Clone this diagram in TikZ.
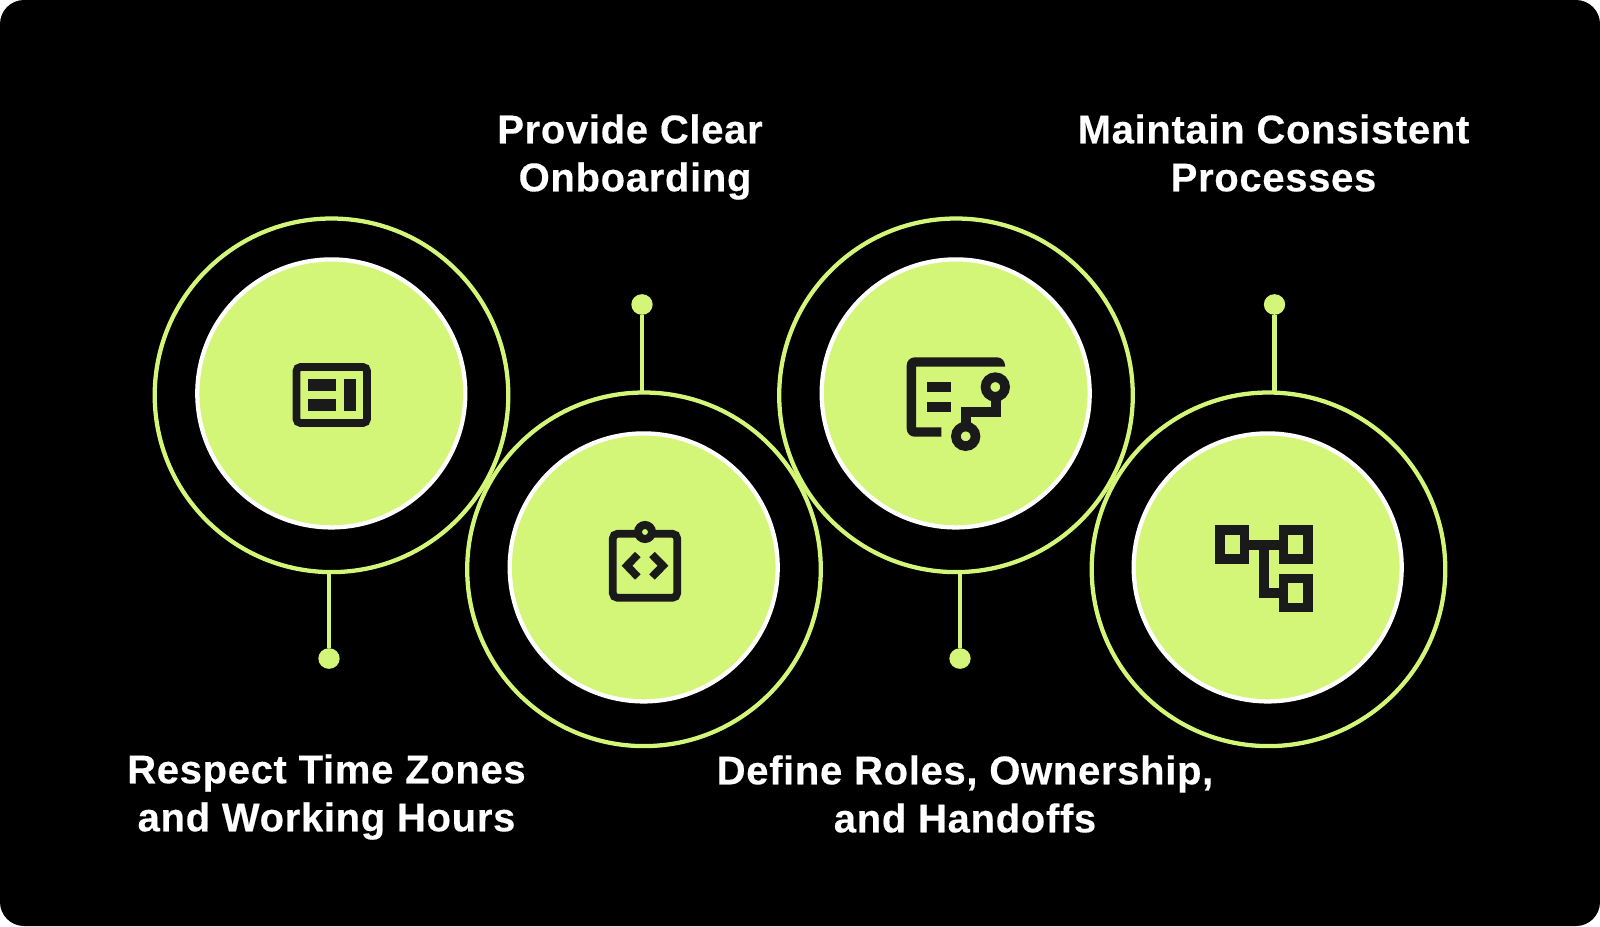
\documentclass[tikz,border=0pt]{standalone}
\usepackage{fontspec}
\setmainfont{Liberation Sans}[LetterSpace=1.7, BoldFeatures={FakeBold=0.35}]
\definecolor{limefill}{HTML}{D3F678}
\definecolor{icondark}{HTML}{1A1A1A}
\tikzset{
	ring/.style={circle, draw=limefill, line width=3.2pt, minimum size=265.2pt, inner sep=0pt, outer sep=0pt},
	disc/.style={circle, fill=limefill, draw=white, line width=3.2pt, minimum size=201pt, inner sep=0pt, outer sep=0pt},
	dot/.style={ellipse, fill=limefill, minimum width=16pt, minimum height=15.5pt, inner sep=0pt, outer sep=0pt},
	stem/.style={limefill, line width=3.2pt},
	caption/.style={text=white, align=center, font=\fontsize{30pt}{36pt}\selectfont\bfseries, inner sep=0pt},
	iconline/.style={icondark, line width=5.8pt},
	iconfat/.style={icondark, line width=7.2pt}
}
\usetikzlibrary{shapes.geometric}
\begin{document}
\begin{tikzpicture}[x=0.75pt, y=-0.75pt]
		\useasboundingbox (0,0) rectangle (1600,926);
		\fill[white] (0,0) rectangle (1600,926);
		\fill[black, rounded corners=18pt] (0,0) rectangle (1600,926);

		\node[ring] (ringA) at (331.5,395.3) {};
		\node[ring] (ringB) at (644,569.3) {};
		\node[ring] (ringC) at (956,395.3) {};
		\node[ring] (ringD) at (1268.5,569.3) {};
		\node[disc] (discA) at (331.3,393.4) {};
		\node[disc] (discB) at (643.7,567.4) {};
		\node[disc] (discC) at (955.7,393.4) {};
		\node[disc] (discD) at (1267.7,567.4) {};

		\node[dot] (dotA) at (329,658.5) {};
		\node[dot] (dotB) at (642,304.5) {};
		\node[dot] (dotC) at (960,658.5) {};
		\node[dot] (dotD) at (1274.5,304.5) {};
		\draw[stem] (dotA |- ringA.south) -- (dotA);
		\draw[stem] (dotB |- ringB.north) -- (dotB);
		\draw[stem] (dotC |- ringC.south) -- (dotC);
		\draw[stem] (dotD |- ringD.north) -- (dotD);

		\node[caption] (textB) at (630,157) {Provide Clear\\\hspace*{7.6pt}Onboarding};
		\node[caption] (textD) at (1273.5,153) {Maintain Consistent\\Processes};
		\node[caption] (textA) at (326.5,797) {Respect Time Zones\\and Working Hours};
		\node[caption] (textC) at (965,794) {Define Roles, Ownership,\\and Handoffs};

		\draw[iconline, rounded corners=3pt] (296.5,367) rectangle (367,423);
		\fill[icondark] (308.3,379.3) rectangle (336,391.3);
		\fill[icondark] (308.3,399) rectangle (336,410.7);
		\fill[icondark] (343.7,379.3) rectangle (355.7,410.7);

		\draw[iconline, rounded corners=3.5pt] (612.8,533.8) rectangle (677.2,597.8);
		\filldraw[icondark, fill=limefill, line width=6pt] (645,532) circle (7);
		\draw[iconline, miter limit=10] (637.8,554.5) -- (627,565.7) -- (637.8,577);
		\draw[iconline, miter limit=10] (652,554.5) -- (663,565.7) -- (652,577);

		\fill[icondark] (941.3,436.7) [rounded corners=6pt] -- (906.7,436.7) -- (906.7,357.3) -- (1005,357.3) [sharp corners] -- (1005,366.5) -- (916,366.5) -- (916,427.3) -- (941.3,427.3) -- cycle;
		\fill[icondark] (926.7,382.3) rectangle (951.3,392.3);
		\fill[icondark] (926.7,401.7) rectangle (951.3,411.7);
		\draw[iconfat] (995.7,397) -- (995.7,411.7) -- (965.7,411.7) -- (965.7,427);
		\draw[iconfat] (995.3,387) circle (9.8);
		\draw[iconfat] (965.7,436.3) circle (9.8);

		\draw[iconfat] (1220.2,530.2) rectangle (1244.5,559.2);
		\draw[iconfat] (1283.5,530.2) rectangle (1307.8,559.2);
		\draw[iconfat] (1283.5,578.5) rectangle (1307.8,607.5);
		\draw[iconfat] (1244.5,544.7) -- (1283.5,544.7);
		\draw[iconfat] (1264.2,544.7) -- (1264.2,593.2) -- (1283.5,593.2);
		\end{tikzpicture}
\end{document}
